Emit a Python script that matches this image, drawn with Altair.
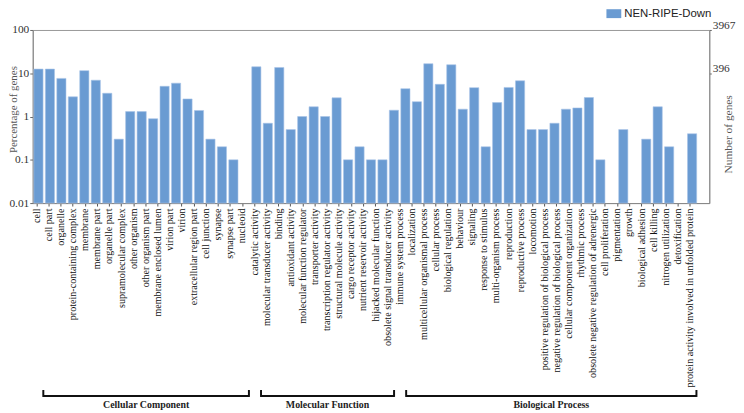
import altair as alt
import pandas as pd

# ---------------- data ----------------
cc_labels = ["cell", "cell part", "organelle", "protein-containing complex", "membrane",
             "membrane part", "organelle part", "supramolecular complex", "other organism",
             "other organism part", "membrane enclosed lumen", "virion part", "virion",
             "extracellular region part", "cell junction", "synapse", "synapse part", "nucleoid"]
mf_labels = ["catalytic activity", "molecular transducer activity", "binding",
             "antioxidant activity", "molecular function regulator", "transporter activity",
             "transcription regulator activity", "structural molecule activity",
             "cargo receptor activity", "nutrient reservoir activity",
             "hijacked molecular function", "obsolete signal transducer activity"]
bp_labels = ["immune system process", "localization", "multicellular organismal process",
             "cellular process", "biological regulation", "behaviour", "signaling",
             "response to stimulus", "multi-organism process", "reproduction",
             "reproductive process", "locomotion", "positive regulation of biological process",
             "negative regulation of biological process", "cellular component organization",
             "rhythmic process", "obsolete negative regulation of adrenergic", "cell proliferation",
             "pigmentation", "growth", "biological adhesion", "cell killing",
             "nitrogen utilization", "detoxification",
             "protein activity involved in unfolded protein"]

# bar heights (percentage of genes), one per bar slot, None = empty slot
cc_pct = [12.5, 12.5, 7.6, 2.85, 11.5, 6.9, 3.45, 0.3, 1.3, 1.3, 0.89, 5.0, 5.9, 2.55,
          1.38, 0.3, 0.2, 0.1, None]
mf_pct = [14.1, 0.7, 13.6, 0.5, 1.0, 1.68, 1.0, 2.7, 0.1, 0.2, 0.1, 0.1]
bp_pct = [1.4, 4.4, 2.2, 16.6, 5.55, 15.7, 1.48, 4.65, 0.2, 2.1, 4.7, 6.7, 0.5, 0.5, 0.7,
          1.48, 1.58, 2.75, 0.1, None, 0.5, None, 0.3, 1.68, 0.2, None, 0.4]

group_names = ["Cellular Component", "Molecular Function", "Biological Process"]
series_name = "NEN-RIPE-Down"
total_genes = 3967
y_ticks = [0.01, 0.1, 1, 10, 100]

# ---------------- tables ----------------
all_pct = cc_pct + mf_pct + bp_pct
n_slots = len(all_pct) + 1  # one trailing empty slot in the reference
bars = pd.DataFrame({"slot": list(range(len(all_pct))), "pct": all_pct})
bars = bars.dropna()
bars["series"] = series_name
bars["genes"] = bars["pct"] * total_genes / 100.0

all_labels = cc_labels + mf_labels + bp_labels
lab = pd.DataFrame({
    "label": all_labels,
    "idx": list(range(len(all_labels))),
    "group": [group_names[0]] * len(cc_labels) + [group_names[1]] * len(mf_labels)
             + [group_names[2]] * len(bp_labels),
})
br = lab.groupby("group", sort=False)["idx"].agg(["min", "max"]).reset_index()
br.columns = ["group", "start", "end"]
br["mid"] = (br["start"] + br["end"]) / 2.0

# ---------------- layout ----------------
W, H = 684, 175
BLUE = "#6a9bd2"
SERIF = "Liberation Serif"
first_pos, last_pos = 3.7, 664.0
n_lab = len(all_labels)
step = (last_pos - first_pos) / (n_lab - 1)
lab_pad = (W / step - (n_lab - 1)) / 2.0
lab_align = first_pos / (W - step * (n_lab - 1))
idx_domain = [-first_pos / step, (W - first_pos) / step]

bar_x = alt.X("slot:O", scale=alt.Scale(domain=list(range(n_slots)), paddingInner=0.2,
                                        paddingOuter=0.1), axis=None)

bar_layer = alt.Chart(bars).mark_bar(stroke="#a8c4e8", strokeWidth=0.6).encode(
    x=bar_x,
    y=alt.Y("pct:Q", scale=alt.Scale(type="log", domain=[0.01, 100], nice=False),
            axis=alt.Axis(values=y_ticks, format="~g", title="Percentage of genes",
                          grid=False, labelFont=SERIF, labelFontSize=11.5, labelColor="#333",
                          tickSize=3, tickColor="#666", domainColor="#888",
                          titleFont=SERIF, titleFontSize=11, titleFontWeight="normal",
                          titleColor="#555", titleAngle=270, titleX=-19, titleY=80,
                          titleAlign="center", titleBaseline="middle", labelPadding=1)),
    y2=alt.datum(0.01),
    color=alt.Color("series:N", scale=alt.Scale(range=[BLUE]),
                    legend=alt.Legend(title=None, orient="none", legendX=580, legendY=-24,
                                      symbolType="M-1,-0.6H1V0.6H-1Z", symbolSize=225,
                                      symbolStrokeWidth=0, labelFont="Liberation Sans",
                                      labelFontSize=11.5, labelColor="#222", padding=0,
                                      labelOffset=3)),
)

right_layer = alt.Chart(bars).mark_bar(opacity=0).encode(
    x=bar_x,
    y=alt.Y("genes:Q",
            scale=alt.Scale(type="log", domain=[0.01 * total_genes / 100, total_genes],
                            nice=False),
            axis=alt.Axis(orient="right", values=[total_genes / 10, total_genes],
                          labelExpr="floor(datum.value)", title="Number of genes",
                          grid=False, labelFont=SERIF, labelFontSize=11.5, labelColor="#333",
                          labelBaseline="bottom", tickSize=2, tickColor="#666",
                          domainColor="#888", labelPadding=1,
                          titleFont=SERIF, titleFontSize=11.5, titleFontWeight="normal",
                          titleColor="#555", titleAngle=270, titleX=19, titleY=105,
                          titleAlign="center", titleBaseline="middle")),
)

label_layer = alt.Chart(lab).mark_point(opacity=0).encode(
    x=alt.X("label:N", sort=all_labels,
            scale=alt.Scale(type="point", padding=lab_pad, align=lab_align),
            axis=alt.Axis(orient="bottom", title=None, labelAngle=270, labelAlign="right",
                          labelBaseline="middle", labelFont=SERIF, labelFontSize=10.2,
                          labelColor="#111", labelLimit=400, labelOverlap=False,
                          labelPadding=2, ticks=True, tickSize=3, tickColor="#555",
                          domainColor="#888", grid=False)),
)

bx = alt.Scale(domain=idx_domain, nice=False, zero=False)
bracket_line = alt.Chart(br).mark_rule(strokeWidth=2, color="#111", xOffset=7,
                                       x2Offset=7).encode(
    x=alt.X("start:Q", scale=bx, axis=None), x2="end:Q", y=alt.value(370))
hook_l = alt.Chart(br).mark_rule(strokeWidth=2, color="#111", xOffset=7).encode(
    x=alt.X("start:Q", scale=bx, axis=None), y=alt.value(364), y2=alt.value(371))
hook_r = alt.Chart(br).mark_rule(strokeWidth=2, color="#111", xOffset=7).encode(
    x=alt.X("end:Q", scale=bx, axis=None), y=alt.value(364), y2=alt.value(371))
bracket_text = alt.Chart(br).mark_text(font=SERIF, fontSize=10, fontWeight="bold",
                                       color="#222", baseline="middle", xOffset=7).encode(
    x=alt.X("mid:Q", scale=bx, axis=None), y=alt.value(379), text="group:N")
brackets = alt.layer(bracket_line, hook_l, hook_r, bracket_text)

chart = alt.layer(bar_layer, right_layer, label_layer, brackets).resolve_scale(
    x="independent", y="independent"
).properties(
    width=W, height=H,
    padding={"left": 25, "top": 20, "right": 27, "bottom": 210},
    autosize=alt.AutoSizeParams(type="none"),
    background="white",
).configure_view(stroke="#999", strokeWidth=1)

chart.save("out.html", embed_options={"renderer": "svg", "actions": False})
